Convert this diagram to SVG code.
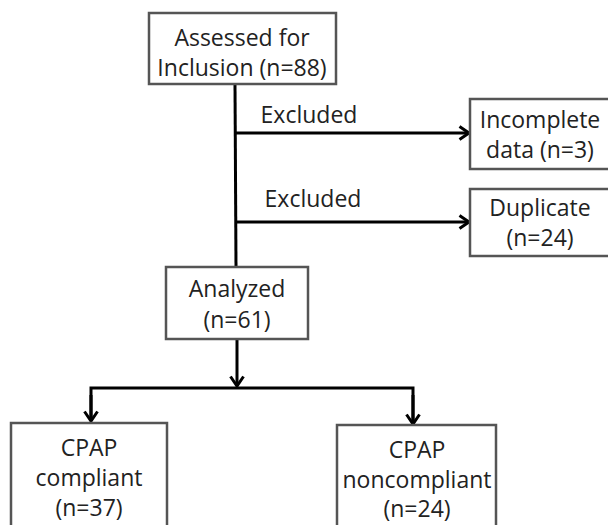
<svg xmlns="http://www.w3.org/2000/svg" width="608" height="525" viewBox="0 0 608 525">
  <style>
    .box { fill: #ffffff; stroke: #555555; stroke-width: 2.5; }
    .lbl { font-family: "Open Sans", "Noto Sans", sans-serif; font-size: 23px; fill: #222222; text-anchor: middle; }
    .edge { fill: none; stroke: #000000; stroke-width: 3; }
  </style>
  <defs>
    <marker id="arr" markerUnits="userSpaceOnUse" markerWidth="14" markerHeight="16" refX="11" refY="8" orient="auto" viewBox="0 0 14 16">
      <path d="M1.5,1.5 L11,8 L1.5,14.5" fill="none" stroke="#000000" stroke-width="3" stroke-linejoin="miter"/>
    </marker>
  </defs>
  <rect width="608" height="525" fill="#ffffff"/>

  <g id="connectors">
    <path class="edge" d="M235,85 L236,267"/>
    <path class="edge" d="M235,133 L469,133" marker-end="url(#arr)"/>
    <path class="edge" d="M236,222 L469,222" marker-end="url(#arr)"/>
    <path class="edge" d="M237,340 L237,386" marker-end="url(#arr)"/>
    <path class="edge" d="M91,421 L91,388 L413,388 L413,424" />
    <path class="edge" d="M91,395 L91,421" marker-end="url(#arr)"/>
    <path class="edge" d="M413,395 L413,424" marker-end="url(#arr)"/>
    <text class="lbl" x="309" y="123">Excluded</text>
    <text class="lbl" x="313" y="207">Excluded</text>
  </g>

  <g id="assessed">
    <rect class="box" x="149" y="13" width="187" height="71"/>
    <text class="lbl" x="242" y="46">Assessed for</text>
    <text class="lbl" x="242" y="76">Inclusion (n=88)</text>
  </g>

  <g id="incomplete">
    <rect class="box" x="470" y="99" width="150" height="70"/>
    <text class="lbl" x="540" y="128">Incomplete</text>
    <text class="lbl" x="540" y="158">data (n=3)</text>
  </g>

  <g id="duplicate">
    <rect class="box" x="470" y="189" width="150" height="67"/>
    <text class="lbl" x="540" y="216">Duplicate</text>
    <text class="lbl" x="540" y="246">(n=24)</text>
  </g>

  <g id="analyzed">
    <rect class="box" x="166" y="267" width="142" height="72"/>
    <text class="lbl" x="237" y="297">Analyzed</text>
    <text class="lbl" x="237" y="328">(n=61)</text>
  </g>

  <g id="compliant">
    <rect class="box" x="11" y="423" width="156" height="120"/>
    <text class="lbl" x="89" y="456">CPAP</text>
    <text class="lbl" x="89" y="486">compliant</text>
    <text class="lbl" x="89" y="516">(n=37)</text>
  </g>

  <g id="noncompliant">
    <rect class="box" x="337" y="425" width="159" height="120"/>
    <text class="lbl" x="417" y="458">CPAP</text>
    <text class="lbl" x="417" y="488">noncompliant</text>
    <text class="lbl" x="417" y="517">(n=24)</text>
  </g>
</svg>
